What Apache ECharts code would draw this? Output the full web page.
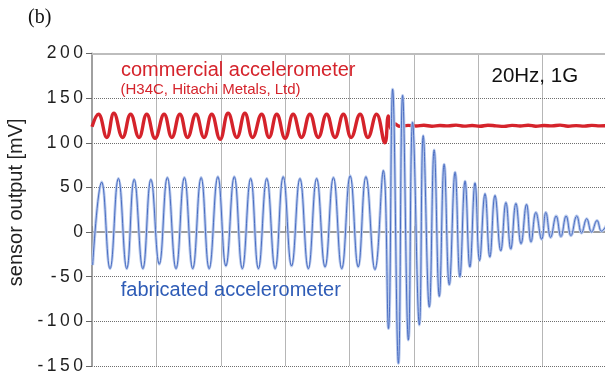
<!DOCTYPE html>
<html>
<head>
<meta charset="utf-8">
<script src="https://cdn.jsdelivr.net/npm/echarts@6/dist/echarts.min.js"></script>
<style>
  html, body { margin: 0; padding: 0; background: #fff; }
  #chart { width: 605px; height: 371px; }
</style>
</head>
<body>
<div id="chart"></div>
<script>
// time axis in ms, 8 divisions of 200 ms, no labels shown
var yTicks = [-150, -100, -50, 0, 50, 100, 150, 200]

// commercial accelerometer (H34C), peaks/troughs [ms, mV]
var redTime = [0, 20, 46, 68, 95, 120, 146, 170, 196, 224, 248, 273, 297, 323, 348, 372, 398, 423, 450, 475,
  499, 527, 550, 574, 600, 625, 651, 677, 703, 729, 755, 781, 805, 833, 857, 884, 910, 921, 931, 941,
  957, 982, 1007, 1031, 1056, 1081, 1106, 1131, 1156, 1181, 1205, 1230, 1255, 1280, 1305, 1330, 1355,
  1379, 1404, 1429, 1454, 1479, 1504, 1529, 1553, 1578, 1600]
var redValue = [118, 132, 106, 133, 106, 132, 106, 132, 105, 132, 106, 132, 106, 132, 106, 132, 104, 133, 106, 133,
  106, 132, 106, 132, 105, 132, 106, 132, 106, 132, 106, 132, 106, 132, 106, 132, 100, 130, 115, 121,
  118.5, 119.5, 118.8, 119.6, 118.6, 119.4, 118.9, 119.8, 118.7, 119.3, 118.5, 119.6, 119, 118.4, 119.5, 118.8, 119.7,
  118.6, 119.4, 118.9, 119.8, 118.6, 119.2, 118.7, 119.5, 118.9, 119.2]

// fabricated accelerometer, peaks/troughs [ms, mV]
var blueTime = [2, 30, 56, 82, 108, 131, 158, 183, 209, 234, 261, 287, 313, 339, 364, 391, 416, 442, 467, 493,
  517, 543, 569, 594, 620, 646, 672, 698, 724, 750, 776, 802, 827, 851, 879, 905,
  921, 934, 952, 965, 983, 996, 1017, 1029, 1048, 1063, 1079, 1094, 1110, 1128, 1143, 1159, 1174, 1190,
  1204, 1221, 1236, 1252, 1270, 1286, 1301, 1317, 1333, 1350, 1364, 1379, 1397, 1410, 1425, 1442, 1457,
  1473, 1488, 1506, 1521, 1537, 1552, 1569, 1583, 1600]
var blueValue = [-37, 56, -41, 60, -41, 59, -41, 59, -36, 61, -41, 61, -41, 61, -41, 62, -38, 62, -41, 60,
  -41, 60, -41, 62, -38, 60, -41, 60, -39, 61, -41, 63, -39, 62, -42, 69,
  -108, 160, -147, 153, -121, 123, -104, 108, -84, 92, -72, 76, -59, 67, -50, 57, -39, 55,
  -32, 43, -28, 41, -21, 33, -19, 32, -13, 31, -11, 22, -8, 22, -6, 18, -5,
  18, -4, 18, -1, 15, 0, 13, 1, 9]

var redData = redTime.map(function (t, i) { return [t, redValue[i]] })
var blueData = blueTime.map(function (t, i) { return [t, blueValue[i]] })

var red = '#d5232b'
var blueText = '#2f5cb6'
var gridColor = '#6f6f6f'

var option = {
    animation: false,
    backgroundColor: '#fff',
    grid: { left: 92, right: -2, top: 53.5, bottom: 5, outerBoundsMode: 'none', containLabel: false },
    xAxis: [{
        type: 'value',
        min: 0,
        max: 1600,
        interval: 200,
        axisLabel: { show: false },
        axisLine: { show: true, lineStyle: { color: '#9c9c9c', width: 2 } },
        axisTick: { show: true, inside: true, length: 6, lineStyle: { color: '#888' } },
        splitLine: { show: true, lineStyle: { type: 'dotted', color: gridColor, width: 1 } }
    }, {
        type: 'value',
        position: 'top',
        min: 0,
        max: 1600,
        axisLabel: { show: false },
        axisLine: { show: true, lineStyle: { color: '#bdbdbd', width: 2 } },
        axisTick: { show: false },
        splitLine: { show: false }
    }],
    yAxis: {
        type: 'value',
        min: yTicks[0],
        max: yTicks[yTicks.length - 1],
        interval: 50,
        name: 'sensor output [mV]',
        nameLocation: 'middle',
        nameGap: 58,
        nameTextStyle: { fontSize: 20, color: '#222', fontFamily: 'Liberation Sans', padding: [0, 0, 0, 15] },
        axisLine: { show: true, lineStyle: { color: '#a0a0a0', width: 2 } },
        axisTick: { show: true, length: 6, lineStyle: { color: '#666' } },
        axisLabel: {
            color: '#1e1e1e',
            fontSize: 17.5,
            fontFamily: 'Liberation Sans',
            margin: 9,
            formatter: function (v) { return String(v).split('').join('\u2009') }
        },
        splitLine: { show: true, lineStyle: { type: 'dotted', color: gridColor, width: 1 } }
    },
    series: [
        {
            name: 'commercial',
            type: 'line',
            data: redData,
            smooth: 0.45,
            showSymbol: false,
            lineStyle: { color: red, width: 3.4 },
            z: 2
        },
        {
            name: 'fabricated halo',
            type: 'line',
            data: blueData,
            smooth: 0.45,
            showSymbol: false,
            silent: true,
            lineStyle: { color: '#b9caec', width: 3 },
            z: 3
        },
        {
            name: 'fabricated',
            type: 'line',
            data: blueData,
            smooth: 0.45,
            showSymbol: false,
            lineStyle: { color: '#4a6dc2', width: 1 },
            z: 4
        }
    ],
    graphic: [
        { type: 'text', left: 28, top: 8, style: { text: '(b)', fontSize: 20, fontFamily: 'Liberation Serif', fill: '#111' } },
        { type: 'text', x: 121, y: 70, style: { text: 'commercial accelerometer', fontSize: 20, fontFamily: 'Liberation Sans', fill: red, verticalAlign: 'middle' }, z: 10 },
        { type: 'text', x: 120.5, y: 90, style: { text: '(H34C, Hitachi Metals, Ltd)', fontSize: 15, fontFamily: 'Liberation Sans', fill: red, verticalAlign: 'middle' }, z: 10 },
        { type: 'text', x: 491.5, y: 76.5, style: { text: '20Hz, 1G', fontSize: 20.5, fontFamily: 'Liberation Sans', fill: '#111', verticalAlign: 'middle' }, z: 10 },
        { type: 'text', x: 120.7, y: 290.3, style: { text: 'fabricated accelerometer', fontSize: 20, fontFamily: 'Liberation Sans', fill: blueText, verticalAlign: 'middle' }, z: 10 }
    ]
}

var myChart = echarts.init(document.getElementById('chart'))
myChart.setOption(option)
</script>
</body>
</html>
